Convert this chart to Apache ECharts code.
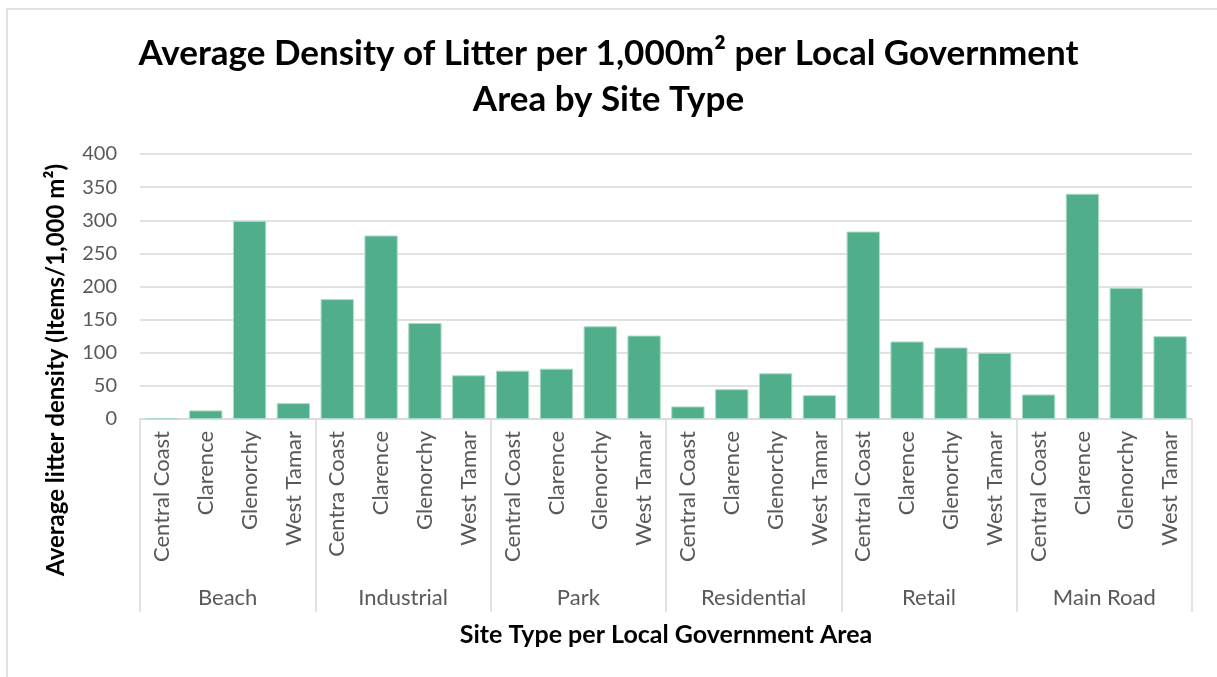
<!DOCTYPE html>
<html>
<head>
<meta charset="utf-8">
<script src="https://cdn.jsdelivr.net/npm/echarts@6/dist/echarts.min.js"></script>
<style>
  html, body { margin: 0; padding: 0; background: #fff; }
  #chart { width: 1217px; height: 677px; }
</style>
</head>
<body>
<div id="chart"></div>
<script>
// Site types (outer category level)
const siteTypes = ['Beach', 'Industrial', 'Park', 'Residential', 'Retail', 'Main Road'];

// Local government areas (inner category level), one row per site type
const beachLgas = ['Central Coast', 'Clarence', 'Glenorchy', 'West Tamar'];
const industrialLgas = ['Centra Coast', 'Clarence', 'Glenorchy', 'West Tamar'];
const parkLgas = ['Central Coast', 'Clarence', 'Glenorchy', 'West Tamar'];
const residentialLgas = ['Central Coast', 'Clarence', 'Glenorchy', 'West Tamar'];
const retailLgas = ['Central Coast', 'Clarence', 'Glenorchy', 'West Tamar'];
const mainRoadLgas = ['Central Coast', 'Clarence', 'Glenorchy', 'West Tamar'];

// Average litter density (items per 1,000 m²)
const beachValues = [1, 13, 299, 24];
const industrialValues = [181, 277, 145, 66];
const parkValues = [73, 76, 140, 126];
const residentialValues = [19, 45, 69, 36];
const retailValues = [283, 117, 108, 100];
const mainRoadValues = [37, 340, 198, 125];

// Y axis ticks
const yTicks = { min: 0, max: 400, step: 50 };

const lgaLabels = [].concat(beachLgas, industrialLgas, parkLgas, residentialLgas, retailLgas, mainRoadLgas);
const densities = [].concat(beachValues, industrialValues, parkValues, residentialValues, retailValues, mainRoadValues);

const FONT = 'Lato, "Open Sans", sans-serif';
const GREY_TEXT = '#595959';
const GRID_LINE = '#D9D9D9';

const chart = echarts.init(document.getElementById('chart'), null, { renderer: 'canvas' });

chart.setOption({
  backgroundColor: '#ffffff',
  animation: false,
  textStyle: { fontFamily: FONT },
  graphic: [{
    // outer chart frame
    type: 'rect',
    shape: { x: 7, y: 9, width: 1240, height: 700 },
    style: { fill: 'none', stroke: '#D9D9D9', lineWidth: 1.5 },
    silent: true,
    z: -1
  }, {
    // value axis title, centred on the plot plus category label band
    type: 'text',
    x: 56,
    y: 370,
    rotation: Math.PI / 2,
    style: {
      text: 'Average litter density (Items/1,000 m²)',
      fontFamily: FONT,
      fontWeight: 'bold',
      fontSize: 24,
      fill: '#000000',
      align: 'center',
      verticalAlign: 'middle'
    },
    silent: true
  }],
  title: {
    text: 'Average Density of Litter per 1,000m² per Local Government\nArea by Site Type',
    left: 'center',
    top: 26,
    textStyle: {
      fontFamily: FONT,
      fontWeight: 'bold',
      fontSize: 35,
      lineHeight: 46,
      color: '#000000'
    }
  },
  grid: {
    left: 140,
    right: 25,
    top: 154,
    bottom: 258,
    containLabel: false
  },
  xAxis: [{
    type: 'category',
    data: lgaLabels,
    position: 'bottom',
    axisLine: { show: true, lineStyle: { color: GRID_LINE, width: 1.5 } },
    axisTick: { show: false },
    axisLabel: {
      interval: 0,
      rotate: 90,
      margin: 12,
      fontSize: 22,
      color: GREY_TEXT,
      fontFamily: FONT
    },
    splitLine: { show: false }
  }, {
    type: 'category',
    data: siteTypes,
    position: 'bottom',
    axisLine: { show: false },
    axisTick: {
      show: true,
      interval: 0,
      length: 193,
      lineStyle: { color: GRID_LINE, width: 1.5 }
    },
    axisLabel: {
      interval: 0,
      margin: 168,
      fontSize: 22,
      color: GREY_TEXT,
      fontFamily: FONT
    },
    name: 'Site Type per Local Government Area',
    nameLocation: 'middle',
    nameGap: 203,
    nameTextStyle: {
      fontFamily: FONT,
      fontWeight: 'bold',
      fontSize: 25,
      color: '#000000'
    }
  }],
  yAxis: {
    type: 'value',
    min: yTicks.min,
    max: yTicks.max,
    interval: yTicks.step,
    axisLine: { show: false },
    axisTick: { show: false },
    axisLabel: {
      margin: 23,
      fontSize: 20,
      color: GREY_TEXT,
      fontFamily: FONT
    },
    splitLine: { lineStyle: { color: GRID_LINE, width: 1.5 } }
  },
  series: [{
    type: 'bar',
    xAxisIndex: 0,
    data: densities,
    barCategoryGap: '24%',
    itemStyle: {
      color: '#50AE8A',
      borderColor: '#A9DCC6',
      borderWidth: 1
    }
  }]
});
</script>
</body>
</html>
